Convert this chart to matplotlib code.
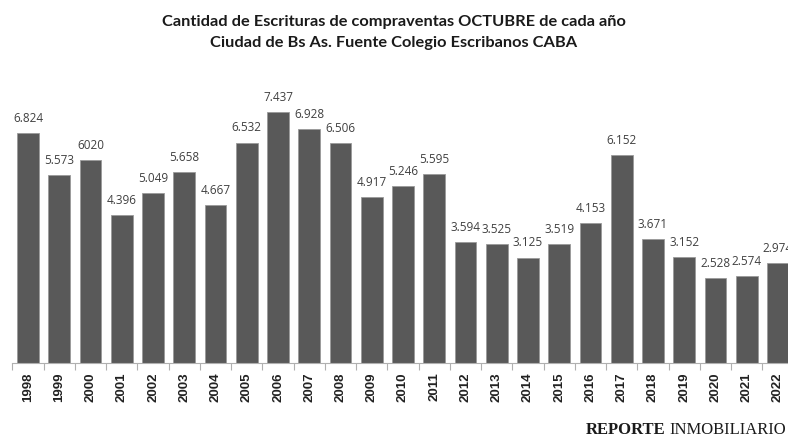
import matplotlib
matplotlib.use("Agg")
import matplotlib.pyplot as plt
import numpy as np

years = [str(y) for y in range(1998, 2023)]
values = [6824, 5573, 6020, 4396, 5049, 5658, 4667, 6532, 7437, 6928, 6506, 4917, 5246,
          5595, 3594, 3525, 3125, 3519, 4153, 6152, 3671, 3152, 2528, 2574, 2974]
labels = ["6.824", "5.573", "6020", "4.396", "5.049", "5.658", "4.667", "6.532", "7.437", "6.928",
          "6.506", "4.917", "5.246", "5.595", "3.594", "3.525", "3.125", "3.519", "4.153", "6.152",
          "3.671", "3.152", "2.528", "2.574", "2.974"]

TITLE1 = "Cantidad de Escrituras de compraventas OCTUBRE de cada año"
TITLE2 = "Ciudad de Bs As. Fuente Colegio Escribanos CABA"

W, H = 788, 446
fig = plt.figure(figsize=(W / 100, H / 100), dpi=100)
# axes runs a bit past the right edge, like the cropped original
ax = fig.add_axes([12.4 / W, 83 / H, 781.2 / W, 270 / H])
x = np.arange(len(years))
ax.bar(x, values, width=0.7, color="#595959", edgecolor="#9a9a9a", linewidth=0.6, zorder=2)
for xi, v, lab in zip(x, values, labels):
    ax.annotate(lab, (xi, v), xytext=(0, 10.5), textcoords="offset points", ha="center", va="center",
                fontsize=8.5, color="#404040", family="Open Sans")

ax.set_xlim(-0.5, len(years) - 0.5)
ax.set_ylim(0, 8000)
ax.set_yticks([])
for s in ["top", "right", "left"]:
    ax.spines[s].set_visible(False)
ax.spines["bottom"].set_color("#b0b0b0")
ax.spines["bottom"].set_linewidth(0.8)
ax.set_xticks(x)
ax.set_xticklabels(years, rotation=90, fontsize=9.5, fontweight="bold", family="Liberation Sans", color="#222222")
ax.tick_params(axis="x", which="major", length=0, pad=7)
ax.set_xticks(np.arange(-0.5, len(years), 1), minor=True)
ax.tick_params(axis="x", which="minor", length=5, color="#b0b0b0", width=0.8)

fig.text(0.5, 1 - 22 / H, TITLE1, ha="center", va="center", fontsize=11.8, fontweight="bold",
         family="Lato", color="#1a1a1a")
fig.text(0.5, 1 - 43 / H, TITLE2, ha="center", va="center", fontsize=11.8, fontweight="bold",
         family="Lato", color="#1a1a1a")

# footer: bold "REPORTE" + regular "INMOBILIARIO", right side
t2 = fig.text(786 / W, 1 - 430 / H, "INMOBILIARIO", ha="right", va="center", fontsize=12,
              family="Liberation Serif", color="#1a1a1a")
fig.canvas.draw()
bb = t2.get_window_extent()
fig.text((bb.x0 - 4) / W, 1 - 430 / H, "REPORTE", ha="right", va="center", fontsize=12,
         fontweight="bold", family="Liberation Serif", color="#1a1a1a")

fig.savefig("out.png", dpi=100, facecolor="white")
